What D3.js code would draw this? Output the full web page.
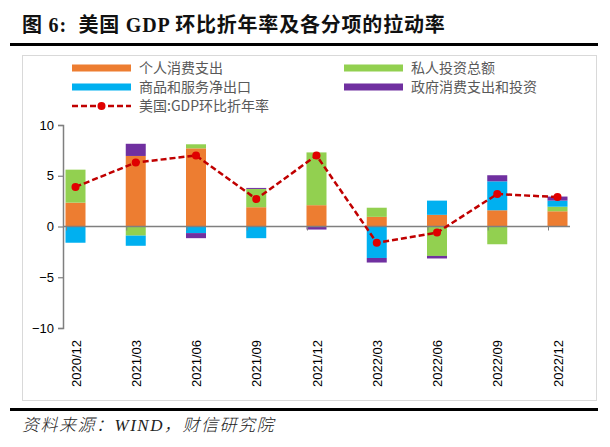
<!DOCTYPE html>
<html><head><meta charset="utf-8">
<script src="https://cdn.jsdelivr.net/npm/d3@7"></script>
<style>
html,body{margin:0;padding:0;background:#fff;}
svg{display:block;}
</style></head>
<body>
<svg id="c" width="610" height="447"></svg>
<script>
const categories = ["2020/12","2021/03","2021/06","2021/09","2021/12","2022/03","2022/06","2022/09","2022/12"];
const pce   = [2.35, 6.95, 7.7, 1.9, 2.1, 0.95, 1.15, 1.6, 1.5];
const inv   = [3.25, -0.9, 0.4, 1.8, 5.2, 0.9, -2.9, -1.75, 0.45];
const netx  = [-1.6, -1.0, -0.65, -1.15, -0.05, -3.1, 1.4, 2.85, 0.6];
const gov   = [0.0, 1.2, -0.5, 0.1, -0.25, -0.45, -0.25, 0.6, 0.4];
const gdp   = [3.9, 6.3, 7.0, 2.7, 7.0, -1.6, -0.6, 3.2, 2.9];
const seriesNames = ["个人消费支出","私人投资总额","商品和服务净出口","政府消费支出和投资"];
const lineName = "美国:GDP环比折年率";
const yTicks = [-10,-5,0,5,10];
const colors = ["#ED7D31","#92D050","#00B0F0","#7030A0"];

const svg = d3.select("#c");
const cjk = "'Noto Sans CJK SC','Noto Sans',sans-serif";

// title
svg.append("text").attr("x",22).attr("y",32)
  .style("font-family","'Liberation Serif','Noto Sans CJK SC',serif")
  .style("font-weight","bold").style("font-size","20px").style("white-space","pre")
  .style("letter-spacing","0.8px")
  .attr("fill","#111").text("图 6:  美国 GDP 环比折年率及各分项的拉动率");
svg.append("rect").attr("x",10).attr("y",43).attr("width",588).attr("height",3).attr("fill","#000");

// chart border
svg.append("rect").attr("x",22.5).attr("y",55.5).attr("width",574).attr("height",345)
  .attr("fill","none").attr("stroke","#D9D9D9").attr("stroke-width",1);

const x = d3.scalePoint().domain(categories).range([75.5, 557.5]);
const y = d3.scaleLinear().domain([-10,10]).range([328,125]);
const bw = 20;

const table = categories.map((c,i)=>({cat:c, s0:pce[i], s1:inv[i], s2:netx[i], s3:gov[i]}));
const stack = d3.stack().keys(["s0","s1","s2","s3"]).offset(d3.stackOffsetDiverging);
const layers = stack(table);

const g = svg.append("g");
layers.forEach((layer,k)=>{
  g.selectAll(null).data(layer).enter().append("rect")
    .attr("x",d=>x(d.data.cat)-bw/2)
    .attr("width",bw)
    .attr("y",d=>y(Math.max(d[0],d[1])))
    .attr("height",d=>Math.abs(y(d[0])-y(d[1])))
    .attr("fill",colors[k]);
});

// zero line
svg.append("line").attr("x1",63).attr("x2",570).attr("y1",y(0)).attr("y2",y(0))
  .attr("stroke","#7F7F7F").attr("stroke-width",1.5);
categories.forEach(c=>{
  svg.append("line").attr("x1",x(c)-9).attr("x2",x(c)-9).attr("y1",y(0)).attr("y2",y(0)+4)
    .attr("stroke","#7F7F7F").attr("stroke-width",1);
});

// y axis
const yAxis = d3.axisLeft(y).tickValues(yTicks).tickSize(5).tickPadding(4);
const ya = svg.append("g").attr("transform","translate(63,0)").call(yAxis);
ya.select(".domain").attr("stroke","#7F7F7F").attr("stroke-width",1.5);
ya.selectAll(".tick line").attr("stroke","#7F7F7F").attr("stroke-width",1.2);
ya.selectAll(".tick text").style("font-family","'Liberation Sans',Arial,sans-serif")
  .style("font-size","13px").attr("fill","#000");

// x labels
svg.selectAll(null).data(categories).enter().append("text")
  .attr("transform",d=>`translate(${x(d)+5},340) rotate(-90)`)
  .attr("text-anchor","end")
  .style("font-family","'Liberation Sans',Arial,sans-serif").style("font-size","13px")
  .attr("fill","#000").text(d=>d);

// GDP line
const line = d3.line().x((d,i)=>x(categories[i])).y(d=>y(d));
svg.append("path").datum(gdp).attr("d",line).attr("fill","none")
  .attr("stroke","#C00000").attr("stroke-width",2.5).attr("stroke-dasharray","6,3");
svg.selectAll(null).data(gdp).enter().append("circle")
  .attr("cx",(d,i)=>x(categories[i])).attr("cy",d=>y(d)).attr("r",4).attr("fill","#E00000");

// legend
const leg = [
  {name:seriesNames[0], color:colors[0], lx:72, ly:68},
  {name:seriesNames[1], color:colors[1], lx:344, ly:68},
  {name:seriesNames[2], color:colors[2], lx:72, ly:87},
  {name:seriesNames[3], color:colors[3], lx:344, ly:87}
];
leg.forEach(l=>{
  svg.append("rect").attr("x",l.lx).attr("y",l.ly-3.5).attr("width",59).attr("height",7).attr("fill",l.color);
  svg.append("text").attr("x",l.lx+67).attr("y",l.ly+5).style("font-family",cjk).style("font-size","14px")
    .attr("fill","#595959").text(l.name);
});
svg.append("line").attr("x1",72).attr("x2",131).attr("y1",106).attr("y2",106)
  .attr("stroke","#C00000").attr("stroke-width",2.5).attr("stroke-dasharray","6,3");
svg.append("circle").attr("cx",101.5).attr("cy",106).attr("r",4).attr("fill","#E00000");
svg.append("text").attr("x",139).attr("y",111).style("font-family",cjk).style("font-size","14px")
  .attr("fill","#595959").text(lineName);

// bottom rule and source
svg.append("rect").attr("x",10).attr("y",408).attr("width",588).attr("height",3).attr("fill","#000");
svg.append("text").attr("x",22).attr("y",431)
  .style("font-family","'Liberation Serif','Noto Sans CJK SC',serif").style("font-style","italic")
  .style("font-size","17px").style("letter-spacing","1.5px").style("font-weight","300")
  .attr("fill","#222").text("资料来源：WIND，财信研究院");
</script>
</body></html>
